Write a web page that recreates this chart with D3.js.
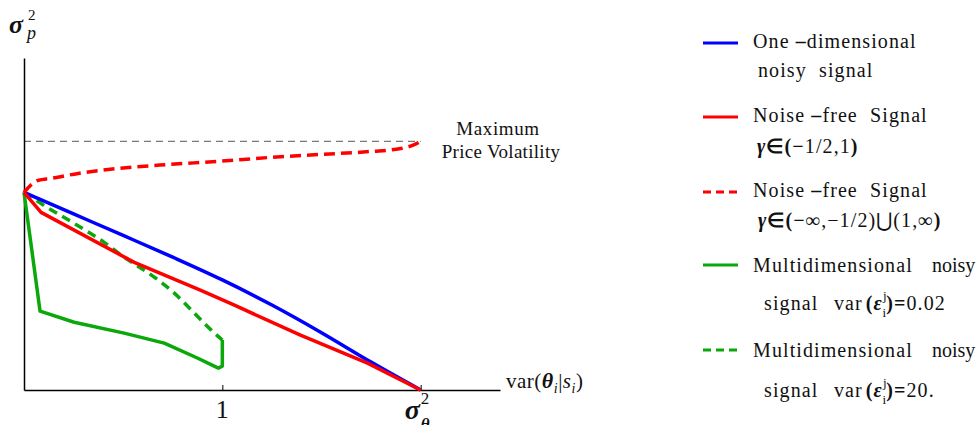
<!DOCTYPE html>
<html><head><meta charset="utf-8">
<script src="https://cdn.jsdelivr.net/npm/d3@7"></script>
<style>body{margin:0;background:#fff} text{font-family:"Liberation Serif","Times New Roman",serif;fill:#111}</style>
</head><body><svg id="c" width="979" height="425"></svg>
<script>
// ---- data (x in units of var(theta|s), sigma_theta^2 = 2; y normalized) ----
const blueX = [0, 0.25, 0.5, 0.75, 1.0, 1.25, 1.5, 1.75, 2.0];
const blueY = [1.0, 0.891, 0.782, 0.672, 0.557, 0.430, 0.290, 0.141, 0];
const redX = [0, 0.086, 0.556, 0.889, 1.061, 1.394, 1.732, 2.0];
const redY = [1.0, 0.899, 0.646, 0.505, 0.429, 0.278, 0.136, 0];
const redDashX = [0, 0.071, 0.136, 0.273, 0.475, 0.727, 0.980, 1.242, 1.495, 1.747, 1.899, 1.965, 2.0];
const redDashY = [1.0, 1.061, 1.071, 1.096, 1.121, 1.141, 1.157, 1.177, 1.192, 1.207, 1.222, 1.240, 1.258];
const greenX = [0, 0.081, 0.253, 0.505, 0.707, 0.874, 0.98, 1.0, 1.0];
const greenY = [1.0, 0.399, 0.343, 0.288, 0.237, 0.162, 0.111, 0.121, 0.253];
const greenDashX = [0, 0.101, 0.253, 0.404, 0.505, 0.657, 0.758, 0.859, 0.960, 1.0];
const greenDashY = [1.0, 0.934, 0.843, 0.747, 0.672, 0.571, 0.490, 0.389, 0.288, 0.253];
const maxVol = 1.258;
const xTicks = [1, 2];
const xTickLabels = ["1", "σθ"];

const svg = d3.select("#c");
const x = d3.scaleLinear([0, 2.4], [24, 500]);
const y = d3.scaleLinear([0, 1.68], [390, 58]);

// helper for rich text
function rich(x0, y0, segs, size, anchor) {
  const t = svg.append("text").attr("x", x0).attr("y", y0).attr("font-size", size)
    .attr("text-anchor", anchor || "start");
  let cur = 0;
  segs.forEach(s => {
    const sh = s.sh || 0;
    const sp = t.append("tspan").text(s.t);
    if (sh !== cur) { sp.attr("dy", sh - cur); cur = sh; }
    if (s.dx) sp.attr("dx", s.dx);
    if (s.b) sp.attr("font-weight", "bold");
    if (s.i) sp.attr("font-style", "italic");
    if (s.fs) sp.attr("font-size", s.fs);
    if (s.ls !== undefined) sp.attr("letter-spacing", s.ls);
  });
  return t;
}

// gray max line
svg.append("line").attr("x1", x(0)).attr("x2", x(2)).attr("y1", y(maxVol)).attr("y2", y(maxVol))
  .attr("stroke", "#777").attr("stroke-width", 1.2).attr("stroke-dasharray", "7,5");

// axes
const gx = svg.append("g").attr("transform", `translate(0,${y(0)})`)
  .call(d3.axisBottom(x).tickValues(xTicks).tickSize(-5).tickSizeOuter(0).tickFormat(""));
gx.select(".domain").attr("stroke", "#000").attr("stroke-width", 1.5);
gx.selectAll(".tick line").attr("stroke", "#000");
const gy = svg.append("g").attr("transform", `translate(${x(0)},0)`)
  .call(d3.axisLeft(y).tickValues([]).tickSizeOuter(0));
gy.select(".domain").attr("stroke", "#000").attr("stroke-width", 1.5);

// tick labels
svg.append("text").attr("x", x(xTicks[0])).attr("y", 418).attr("font-size", 26)
  .attr("text-anchor", "middle").text(xTickLabels[0]);
svg.append("text").attr("x", x(xTicks[1]) - 16).attr("y", 419).attr("font-size", 28)
  .attr("font-weight", "bold").attr("font-style", "italic").text(xTickLabels[1][0]);
svg.append("text").attr("x", x(xTicks[1]) + 0).attr("y", 404).attr("font-size", 17).text("2");
svg.append("text").attr("x", x(xTicks[1]) + 0).attr("y", 430).attr("font-size", 17)
  .attr("font-weight", "bold").attr("font-style", "italic").text(xTickLabels[1][1]);

// axis titles
svg.append("text").attr("x", 9).attr("y", 33).attr("font-size", 26)
  .attr("font-weight", "bold").attr("font-style", "italic").text("σ");
svg.append("text").attr("x", 28).attr("y", 20).attr("font-size", 15).text("2");
svg.append("text").attr("x", 27).attr("y", 39).attr("font-size", 18).attr("font-style", "italic").text("p");
rich(506, 388, [
  {t: "var("}, {t: "θ", b: 1, i: 1, fs: 22}, {t: "i", i: 1, sh: 5, fs: 14},
  {t: "|", sh: 0}, {t: "s", i: 1}, {t: "i", i: 1, sh: 5, fs: 14}, {t: ")", sh: 0}
], 21).attr("letter-spacing", 0.5);

// max label
svg.append("text").attr("x", 498).attr("y", 135).attr("font-size", 19).attr("text-anchor", "middle")
  .attr("letter-spacing", 0.6).text("Maximum");
svg.append("text").attr("x", 501).attr("y", 158).attr("font-size", 19).attr("text-anchor", "middle")
  .attr("letter-spacing", 0.3).text("Price Volatility");

// series
const series = [
  {xs: greenX, ys: greenY, color: "#0aa80a", dash: null, curve: d3.curveLinear},
  {xs: greenDashX, ys: greenDashY, color: "#0aa80a", dash: "9,6", curve: d3.curveMonotoneX},
  {xs: blueX, ys: blueY, color: "#0000ff", dash: null, curve: d3.curveMonotoneX},
  {xs: redX, ys: redY, color: "#ff0000", dash: null, curve: d3.curveLinear},
  {xs: redDashX, ys: redDashY, color: "#ff0000", dash: "11,6", curve: d3.curveMonotoneX}
];
series.forEach(s => {
  const line = d3.line().x(d => x(d[0])).y(d => y(d[1])).curve(s.curve);
  svg.append("path").datum(s.xs.map((v, i) => [v, s.ys[i]]))
    .attr("d", line).attr("fill", "none").attr("stroke", s.color).attr("stroke-width", 3.5)
    .attr("stroke-linejoin", "round").attr("stroke-dasharray", s.dash);
});

// legend
const legend = [
  {color: "#0000ff", dash: null, ly: 43, lines: [
    {x: 753, y: 48, segs: [{t: "One "}, {t: "–", b: 1}, {t: "dimensional"}]},
    {x: 758, y: 77, segs: [{t: "noisy  signal"}]}]},
  {color: "#ff0000", dash: null, ly: 117, lines: [
    {x: 753, y: 122, segs: [{t: "Noise "}, {t: "–", b: 1}, {t: "free  Signal"}]},
    {x: 757, y: 153, segs: [{t: "γ", b: 1, i: 1}, {t: "∈(−", b: 1}, {t: "1/2,1"}, {t: ")", b: 1}]}]},
  {color: "#ff0000", dash: "8,5", ly: 192, lines: [
    {x: 753, y: 197, segs: [{t: "Noise "}, {t: "–", b: 1}, {t: "free  Signal"}]},
    {x: 758, y: 227, segs: [{t: "γ", b: 1, i: 1}, {t: "∈(−∞", b: 1}, {t: ",−1/2)⋃(1,"}, {t: "∞)", b: 1}]}]},
  {color: "#0aa80a", dash: null, ly: 265, lines: [
    {x: 753, y: 272, segs: [{t: "Multidimensional"}]},
    {x: 932, y: 272, ls: 0, segs: [{t: "noisy"}]},
    {x: 764, y: 310, segs: [{t: "signal"}]},
    {x: 834, y: 310, segs: [{t: "var"}, {t: "(", b: 1, dx: 3}, {t: "ε", b: 1, i: 1}, {t: "j", sh: -10, fs: 13, ls: 0},
      {t: "i", sh: 7, fs: 13, dx: -4, ls: 0}, {t: ")=", b: 1, sh: 0}, {t: "0.02"}]}]},
  {color: "#0aa80a", dash: "8,5", ly: 350, lines: [
    {x: 753, y: 357, segs: [{t: "Multidimensional"}]},
    {x: 932, y: 357, ls: 0, segs: [{t: "noisy"}]},
    {x: 764, y: 397, segs: [{t: "signal"}]},
    {x: 834, y: 397, segs: [{t: "var"}, {t: "(", b: 1, dx: 3}, {t: "ε", b: 1, i: 1}, {t: "j", sh: -10, fs: 13, ls: 0},
      {t: "i", sh: 7, fs: 13, dx: -4, ls: 0}, {t: ")=", b: 1, sh: 0}, {t: "20."}]}]}
];
legend.forEach(e => {
  svg.append("line").attr("x1", 703).attr("x2", 738).attr("y1", e.ly).attr("y2", e.ly)
    .attr("stroke", e.color).attr("stroke-width", 3.2).attr("stroke-dasharray", e.dash);
  e.lines.forEach(l => {
    rich(l.x, l.y, l.segs, 20).attr("letter-spacing", l.ls !== undefined ? l.ls : 1.1).style("white-space", "pre");
  });
});
</script></body></html>
